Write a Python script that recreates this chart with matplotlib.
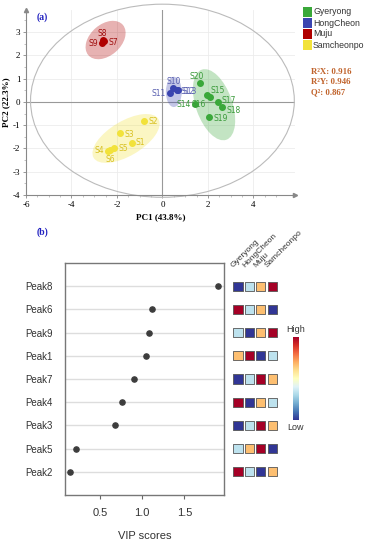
import numpy as np
import matplotlib
matplotlib.use('Agg')
import matplotlib.pyplot as plt
from matplotlib.patches import Ellipse, Rectangle

plt.rcParams['axes.unicode_minus'] = False

# ---- PCA score data ----
groups = ['Gyeryong', 'HongCheon', 'Muju', 'Samcheonpo']
group_colors = ['#3aa83a', '#3a44b0', '#b00000', '#f2e23a']
label_colors = ['#3a9a3a', '#5a60b0', '#a01010', '#d8c020']

sample_names = [['S14', 'S15', 'S16', 'S17', 'S18', 'S19', 'S20'],
                ['S10', 'S11', 'S12', 'S13'],
                ['S7', 'S8', 'S9'],
                ['S1', 'S2', 'S3', 'S4', 'S5', 'S6']]
pc1 = [[1.42, 1.98, 2.08, 2.43, 2.62, 2.05, 1.64],
       [0.48, 0.35, 0.62, 0.68],
       [-2.55, -2.60, -2.65],
       [-1.36, -0.79, -1.87, -2.38, -2.13, -2.30]]
pc2 = [[-0.10, 0.30, 0.20, -0.01, -0.23, -0.66, 0.80],
       [0.58, 0.40, 0.52, 0.50],
       [2.60, 2.65, 2.55],
       [-1.75, -0.84, -1.32, -2.09, -1.99, -2.05]]

# group confidence ellipses: centre, width, height, angle
ell_cx = [2.27, 0.50, -2.50, -1.60]
ell_cy = [-0.12, 0.43, 2.66, -1.57]
ell_w = [3.2, 0.7, 2.0, 3.3]
ell_h = [1.6, 1.3, 1.35, 1.5]
ell_ang = [-70, 0, 40, 30]

stats = ['R²X: 0.916', 'R²Y: 0.946', 'Q²: 0.867']

# ---- VIP data ----
peaks = ['Peak8', 'Peak6', 'Peak9', 'Peak1', 'Peak7', 'Peak4', 'Peak3', 'Peak5', 'Peak2']
vip = [1.90, 1.12, 1.08, 1.04, 0.90, 0.76, 0.68, 0.21, 0.15]
# relative level per group (1 low .. 4 high)
levels = [[1, 2, 3, 4],
          [4, 2, 3, 1],
          [2, 1, 3, 4],
          [3, 4, 1, 2],
          [1, 2, 4, 3],
          [4, 1, 3, 2],
          [1, 2, 4, 3],
          [2, 3, 4, 1],
          [4, 2, 1, 3]]

# label offsets in points (for sample tags)
offs = {'S14': (-3, 0, 'right'), 'S15': (2, 3, 'left'), 'S16': (-3, -5, 'right'),
        'S17': (3, 1, 'left'), 'S18': (3, -2, 'left'), 'S19': (3, -1, 'left'),
        'S20': (-2, 5, 'center'), 'S10': (0, 5, 'center'), 'S11': (-3, -1, 'right'),
        'S12': (3, -1, 'left'), 'S13': (3, -1, 'left'), 'S7': (3, -1, 'left'),
        'S8': (-1, 5, 'center'), 'S9': (-3, -1, 'right'), 'S1': (3, 0, 'left'),
        'S2': (3, 0, 'left'), 'S3': (3, -1, 'left'), 'S4': (-3, 0, 'right'),
        'S5': (3, 0, 'left'), 'S6': (0, -7, 'center')}

W, H = 368, 550
fig = plt.figure(figsize=(W / 100, H / 100), dpi=100)


def box(l, t, r, b):
    return [l / W, 1 - b / H, (r - l) / W, (b - t) / H]


serif = 'Liberation Serif'
sans = 'Liberation Sans'

# ================= (a) score plot =================
ax = fig.add_axes(box(26, 10, 295, 195))
ax.set_xlim(-6, 5.83)
ax.set_ylim(-4, 3.95)
ax.grid(True, color='#ececec', lw=0.6)
ax.set_axisbelow(True)
for s in ['top', 'right']:
    ax.spines[s].set_visible(False)
for s in ['left', 'bottom']:
    ax.spines[s].set_color('#888888')
    ax.spines[s].set_linewidth(0.8)
ax.axhline(0, color='#999999', lw=0.8, zorder=1)
ax.axvline(0, color='#999999', lw=0.8, zorder=1)
ax.add_patch(Ellipse((0, 0.05), 11.6, 8.3, fill=False, ec='#bbbbbb', lw=0.8,
                     clip_on=False, zorder=1))
for i in range(len(groups)):
    ax.add_patch(Ellipse((ell_cx[i], ell_cy[i]), ell_w[i], ell_h[i], angle=ell_ang[i],
                         fc=group_colors[i], alpha=0.3, ec='none', zorder=2))
    ax.plot(pc1[i], pc2[i], 'o', color=group_colors[i], ms=4, zorder=3,
            mec=group_colors[i])
    for name, x, y in zip(sample_names[i], pc1[i], pc2[i]):
        dx, dy, ha = offs[name]
        ax.annotate(name, (x, y), xytext=(dx, dy), textcoords='offset points',
                    ha=ha, va='center', fontsize=5.5, color=label_colors[i],
                    family='DejaVu Sans', zorder=4)
ax.set_xticks([-6, -4, -2, 0, 2, 4])
ax.set_yticks([-4, -3, -2, -1, 0, 1, 2, 3])
ax.set_xticks(np.arange(-6, 5.5, 0.5), minor=True)
ax.set_yticks(np.arange(-4, 4, 0.5), minor=True)
ax.grid(False, which='minor')
ax.tick_params(labelsize=6.5, length=2.5, width=0.6, color='#888888', pad=1.5)
ax.tick_params(which='minor', length=1.5, width=0.5, color='#aaaaaa')
for t in ax.get_xticklabels() + ax.get_yticklabels():
    t.set_family(serif)
ax.plot(1, 0, '>', transform=ax.transAxes, color='#888888', ms=3, clip_on=False)
ax.plot(0, 1, '^', transform=ax.transAxes, color='#888888', ms=3, clip_on=False)
ax.set_xlabel('PC1 (43.8%)', fontsize=6.5, family=serif, weight='bold', labelpad=3)
ax.set_ylabel('PC2 (22.3%)', fontsize=6.5, family=serif, weight='bold', labelpad=2)
ax.text(0.04, 0.985, '(a)', transform=ax.transAxes, fontsize=7, family=serif,
        weight='bold', color='#2020c0', va='top')

# legend (outside, top right)
for i, g in enumerate(groups):
    yp = 12 + i * 11
    fig.patches.append(Rectangle((303 / W, 1 - (yp + 5) / H), 9 / W, 10 / H,
                                 transform=fig.transFigure, fc=group_colors[i], ec='none'))
    fig.text(313 / W, 1 - yp / H, g, fontsize=6.3, family=sans,
             color='#333333', va='center', ha='left')
for k, s in enumerate(stats):
    fig.text(311 / W, 1 - (72 + k * 10) / H, s, fontsize=6.3, family=serif,
             weight='bold', color='#c0622a', va='center', ha='left')

# ================= (b) VIP plot =================
fig.text(37 / W, 1 - 232 / H, '(b)', fontsize=7, family=serif, weight='bold',
         color='#2020c0', va='center')
bx = fig.add_axes(box(65, 263, 224, 495))
ypos = np.arange(len(peaks), 0, -1)
for y in ypos:
    bx.axhline(y, color='#dddddd', lw=1.0, zorder=1)
bx.scatter(vip, ypos, s=14, color='#3c3c3c', zorder=3)
bx.set_xlim(0.085, 1.97)
bx.set_ylim(0, len(peaks) + 1)
bx.set_yticks(ypos)
bx.set_yticklabels(peaks, family=sans, fontsize=7, color='#333333')
bx.set_xticks([0.5, 1.0, 1.5])
bx.set_xticklabels(['0.5', '1.0', '1.5'], family=sans, fontsize=8, color='#333333')
bx.tick_params(axis='y', length=0, pad=9)
bx.tick_params(axis='x', length=3, width=0.8, color='#666666', pad=6)
for s in bx.spines.values():
    s.set_color('#777777')
    s.set_linewidth(1.0)
bx.set_xlabel('VIP scores', family=sans, fontsize=8, color='#333333', labelpad=10)

# heat squares
cmap = plt.get_cmap('RdYlBu_r')
hx = fig.add_axes(box(232.3, 263, 277.9, 495))
hx.set_xlim(0, 4)
hx.set_ylim(0, len(peaks) + 1)
hx.axis('off')
lv = np.array(levels)
xs = np.tile(np.arange(4) + 0.5, len(peaks))
ys = np.repeat(ypos, 4)
hx.scatter(xs, ys, c=lv.ravel(), cmap=cmap, vmin=1, vmax=4, marker='s', s=44,
           edgecolors='#555555', linewidths=0.6)
for j, g in enumerate(groups):
    hx.text(j + 0.2, len(peaks) + 0.75, g, rotation=45, rotation_mode='anchor',
            ha='left', va='bottom', fontsize=6, family=sans, color='#333333')

# colour bar
cx = fig.add_axes(box(293, 337, 299, 420))
grad = np.linspace(0, 1, 256).reshape(-1, 1)
cx.imshow(grad, aspect='auto', cmap=cmap, origin='lower')
cx.axis('off')
fig.text(296 / W, 1 - 330 / H, 'High', fontsize=6.5, family=sans, color='#333333',
         ha='center', va='center')
fig.text(296 / W, 1 - 428 / H, 'Low', fontsize=6.5, family=sans, color='#333333',
         ha='center', va='center')

fig.savefig('out.png', dpi=100)
